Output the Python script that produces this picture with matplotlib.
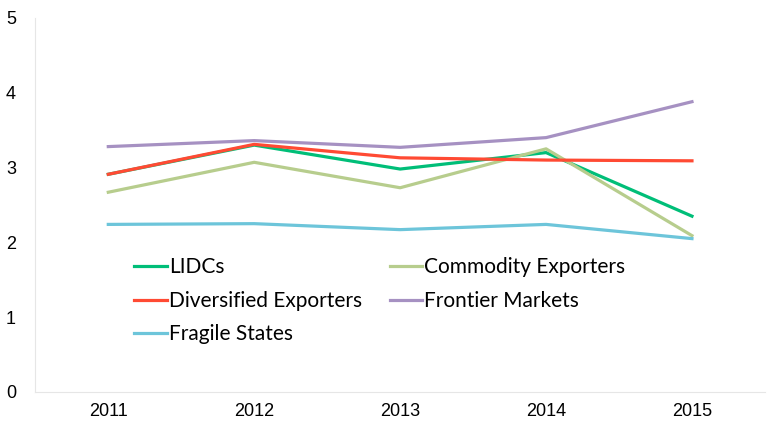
import matplotlib.pyplot as plt
from matplotlib import font_manager

years = [2011, 2012, 2013, 2014, 2015]
lidcs = [2.91, 3.30, 2.98, 3.20, 2.35]
commodity = [2.67, 3.07, 2.73, 3.25, 2.09]
diversified = [2.91, 3.31, 3.13, 3.10, 3.09]
frontier = [3.28, 3.36, 3.27, 3.40, 3.88]
fragile = [2.24, 2.25, 2.17, 2.24, 2.05]

names = [f.name for f in font_manager.fontManager.ttflist]
tick_font = 'Liberation Sans Narrow' if 'Liberation Sans Narrow' in names else 'Liberation Sans'

fig = plt.figure(figsize=(7.68, 4.37), dpi=100)
ax = fig.add_axes([0.046, 0.103, 0.95, 0.856])

l1, = ax.plot(years, lidcs, color='#00BE78', lw=2.3, label='LIDCs')
l2, = ax.plot(years, commodity, color='#B7CD8D', lw=2.3, label='Commodity Exporters')
l3, = ax.plot(years, diversified, color='#FF4A33', lw=2.3, label='Diversified Exporters')
l4, = ax.plot(years, frontier, color='#A691C2', lw=2.3, label='Frontier Markets')
l5, = ax.plot(years, fragile, color='#6DC5DA', lw=2.3, label='Fragile States')

ax.set_xlim(2010.5, 2015.5)
ax.set_ylim(0, 5)
ax.set_xticks(years)
ax.set_yticks([0, 1, 2, 3, 4, 5])
for s in ['top', 'right']:
    ax.spines[s].set_visible(False)
for s in ['left', 'bottom']:
    ax.spines[s].set_color('#e6e6e6')
ax.tick_params(length=0, labelsize=13, pad=8)
for lab in ax.get_xticklabels() + ax.get_yticklabels():
    lab.set_family(tick_font)
ax.tick_params(axis='y', pad=14)

# column-wise fill -> order so rows read like the original
handles = [l1, l3, l5, l2, l4]
leg = ax.legend(handles, [h.get_label() for h in handles], ncol=2, frameon=False,
                loc='upper left', bbox_to_anchor=(0.11, 0.41),
                prop={'family': 'Lato', 'size': 15}, handlelength=1.55, handletextpad=0.1,
                columnspacing=1.35, labelspacing=0.65)

plt.savefig('out.png')
